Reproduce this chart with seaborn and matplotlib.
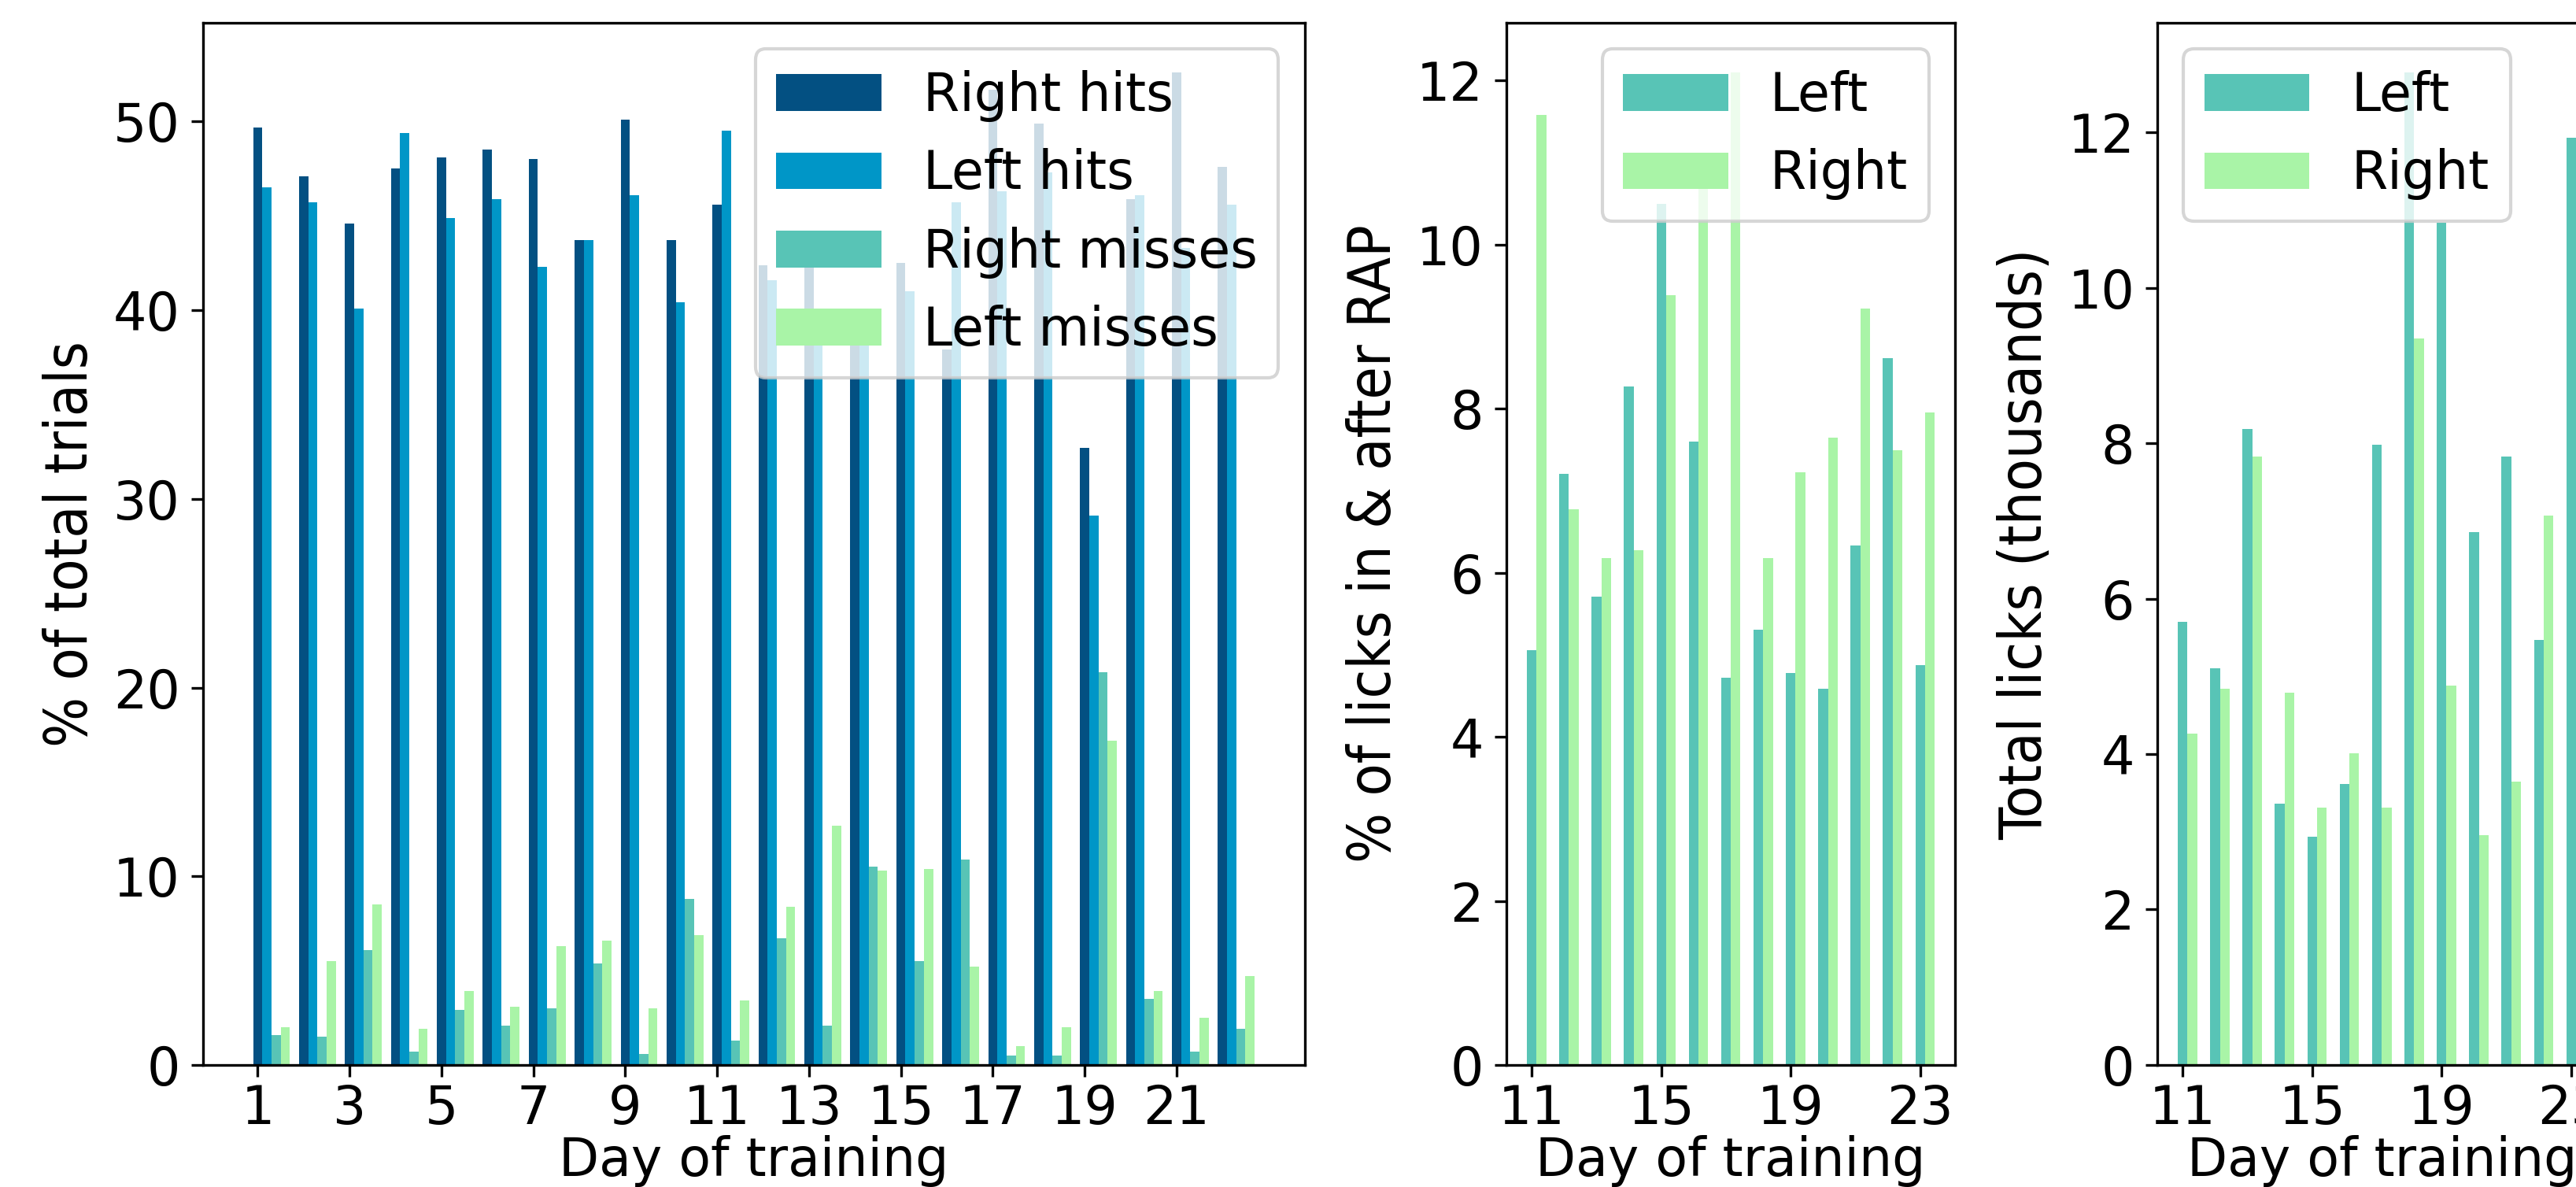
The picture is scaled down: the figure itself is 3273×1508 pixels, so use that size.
import matplotlib
matplotlib.use("Agg")
import matplotlib.pyplot as plt
from matplotlib import font_manager
import seaborn as sns
import numpy as np
import pandas as pd

# panel 1: outcome of trials per training day
days = np.arange(1, 23)
right_hits = [49.7, 47.1, 44.6, 47.5, 48.1, 48.5, 48.0, 43.7, 50.1, 43.7, 45.6,
              42.4, 43.2, 39.4, 42.5, 37.9, 51.7, 49.9, 32.7, 45.9, 52.6, 47.6]
left_hits = [46.5, 45.7, 40.1, 49.4, 44.9, 45.9, 42.3, 43.7, 46.1, 40.4, 49.5,
             41.6, 39.3, 39.0, 41.0, 45.7, 46.3, 47.3, 29.1, 46.1, 43.3, 45.6]
right_misses = [1.6, 1.5, 6.1, 0.7, 2.9, 2.1, 3.0, 5.4, 0.6, 8.8, 1.3,
                6.7, 2.1, 10.5, 5.5, 10.9, 0.5, 0.5, 20.8, 3.5, 0.7, 1.9]
left_misses = [2.0, 5.5, 8.5, 1.9, 3.9, 3.1, 6.3, 6.6, 3.0, 6.9, 3.4,
               8.4, 12.7, 10.3, 10.4, 5.2, 1.0, 2.0, 17.2, 3.9, 2.5, 4.7]
outcomes = ["Right hits", "Left hits", "Right misses", "Left misses"]

# panels 2 and 3: licks on days 11-23
lick_days = np.arange(11, 24)
rap_left = [5.06, 7.21, 5.71, 8.27, 10.5, 7.6, 4.72, 5.31, 4.78, 4.59, 6.33, 8.62, 4.87]
rap_right = [11.58, 6.77, 6.18, 6.28, 9.38, 10.82, 12.1, 6.18, 7.23, 7.65, 9.22, 7.49, 7.95]
total_left = [5.70, 5.10, 8.18, 3.36, 2.94, 3.62, 7.98, 12.77, 10.84, 6.86, 7.83, 5.47, 11.93]
total_right = [4.26, 4.84, 7.83, 4.79, 3.31, 4.01, 3.31, 9.35, 4.88, 2.96, 3.65, 7.07, 5.07]
sides = ["Left", "Right"]

outcome_colors = ["#035082", "#0096C7", "#58C4B6", "#A9F4A7"]
side_colors = ["#58C4B6", "#A9F4A7"]

plt.rcParams["font.size"] = 16


def narrow_font():
    # y labels in the original use a narrow sans; take one if there is any
    cands = []
    for f in font_manager.fontManager.ttflist:
        if f.style != "normal" or f.weight not in (400, "normal", "regular"):
            continue
        name = f.name.lower()
        if "narrow" in name or "condensed" in name or f.stretch in ("condensed", "semi-condensed"):
            if "mono" in name or "serif" in name and "sans" not in name:
                continue
            rank = 0 if "liberation sans narrow" in name else 1
            cands.append((rank, f.fname))
    if cands:
        cands.sort()
        return font_manager.FontProperties(fname=cands[0][1], size=18)
    return font_manager.FontProperties(family=["Liberation Sans", "DejaVu Sans"], size=15)


ylabel_font = narrow_font()


def long_table(x, series, names):
    frames = []
    for name, vals in zip(names, series):
        frames.append(pd.DataFrame({"x": x, "value": vals, "series": name}))
    return pd.concat(frames, ignore_index=True)


def grouped_bars(ax, df, names, colors, width, legend_loc):
    sns.barplot(data=df, x="x", y="value", hue="series", hue_order=names,
                palette=colors, native_scale=True, dodge=True, width=width,
                saturation=1, errorbar=None, linewidth=0, ax=ax)
    leg = ax.get_legend()
    handles = leg.legend_handles
    ax.legend(handles, names, loc=legend_loc, fontsize=16)


fig = plt.figure(figsize=(3273 / 300, 1508 / 300), dpi=300)
ax1 = fig.add_axes([0.0788, 0.1028, 0.4277, 0.878])
ax2 = fig.add_axes([0.5848, 0.1028, 0.1742, 0.878])
ax3 = fig.add_axes([0.8375, 0.1028, 0.1742, 0.878])

# first bar of every group sits on the day, the rest follow to the right
df1 = long_table(days + 0.3, [right_hits, left_hits, right_misses, left_misses], outcomes)
grouped_bars(ax1, df1, outcomes, outcome_colors, 0.8, "upper right")
ax1.set_xticks(days[::2])
ax1.set_xticklabels([str(d) for d in days[::2]])
ax1.set_ylabel("% of total trials", fontproperties=ylabel_font)

df2 = long_table(lick_days + 0.15, [rap_left, rap_right], sides)
grouped_bars(ax2, df2, sides, side_colors, 0.6, "upper right")
ax2.set_ylabel("% of licks in & after RAP", fontproperties=ylabel_font)

df3 = long_table(lick_days + 0.15, [total_left, total_right], sides)
grouped_bars(ax3, df3, sides, side_colors, 0.6, "upper left")
ax3.set_ylabel("Total licks (thousands)", fontproperties=ylabel_font)

for ax in (ax2, ax3):
    ax.set_xticks(lick_days[::4])
    ax.set_xticklabels([str(d) for d in lick_days[::4]])

for ax in (ax1, ax2, ax3):
    ax.set_xlabel("Day of training", labelpad=0)
    ax.tick_params(axis="x", pad=2)
    ax.margins(x=0.05, y=0.05)
    ax.set_ylim(0, None)
    ax.autoscale(axis="x")

fig.savefig("out.png", dpi=300)
